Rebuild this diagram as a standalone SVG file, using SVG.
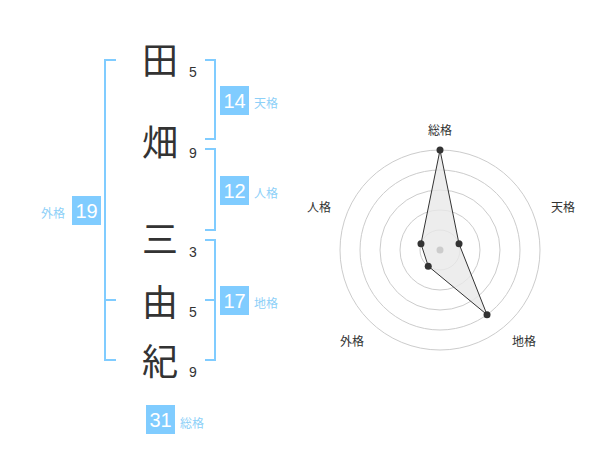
<svg xmlns="http://www.w3.org/2000/svg" width="600" height="470" viewBox="0 0 600 470">
<style>
.kanji{font-family:"Noto Sans CJK JP","Noto Sans CJK SC",sans-serif;font-size:36px;fill:#333;text-anchor:middle}
.num{font-family:"Liberation Sans",Arial,sans-serif;font-size:14px;fill:#333;text-anchor:middle}
.box{fill:#80ccff}
.boxnum{font-family:"Liberation Sans",Arial,sans-serif;font-size:20px;fill:#fff;text-anchor:middle}
.lab{font-family:"Noto Sans CJK JP","Noto Sans CJK SC",sans-serif;font-size:12px;fill:#8dd0f8}
.br{fill:none;stroke:#80ccff;stroke-width:2}
.ring{fill:none;stroke:#cccccc;stroke-width:1}
.axl{font-family:"Noto Sans CJK JP","Noto Sans CJK SC",sans-serif;font-size:12px;fill:#333;text-anchor:middle}
.pt{fill:#333}
</style>
<rect width="600" height="470" fill="#fff"/>
<g id="connectors">
<path class="br" d="M116,60 H105 V360 H116 M105,300 H116"/>
<path class="br" d="M205,60 H215 V139 H205"/>
<path class="br" d="M205,149 H215 V230 H205"/>
<path class="br" d="M205,240 H215 V360 H205 M215,300 H205"/>
</g>
<g id="name">
<text class="kanji" x="160" y="74">田</text>
<text class="num" x="193" y="77">5</text>
<text class="kanji" x="160" y="156">畑</text>
<text class="num" x="193" y="158">9</text>
<text class="kanji" x="160" y="253">三</text>
<text class="num" x="193" y="257">3</text>
<text class="kanji" x="160" y="316">由</text>
<text class="num" x="193" y="317">5</text>
<text class="kanji" x="160" y="375">紀</text>
<text class="num" x="193" y="377">9</text>
</g>
<g id="tenkaku">
<rect class="box" x="220" y="86" width="29" height="29"/>
<text class="boxnum" x="234.5" y="107.5">14</text>
<text class="lab" x="254" y="108">天格</text>
</g>
<g id="jinkaku">
<rect class="box" x="220" y="176" width="29" height="29"/>
<text class="boxnum" x="234.5" y="197.5">12</text>
<text class="lab" x="254" y="198">人格</text>
</g>
<g id="chikaku">
<rect class="box" x="220" y="286" width="29" height="29"/>
<text class="boxnum" x="234.5" y="307.5">17</text>
<text class="lab" x="254" y="308">地格</text>
</g>
<g id="gaikaku">
<rect class="box" x="72" y="196" width="29" height="29"/>
<text class="boxnum" x="86.5" y="217.5">19</text>
<text class="lab" x="41" y="218">外格</text>
</g>
<g id="soukaku">
<rect class="box" x="146" y="405" width="29" height="29"/>
<text class="boxnum" x="160.5" y="426.5">31</text>
<text class="lab" x="180" y="428">総格</text>
</g>
<g id="radar">
<circle class="ring" cx="440" cy="250" r="20"/>
<circle class="ring" cx="440" cy="250" r="40"/>
<circle class="ring" cx="440" cy="250" r="60"/>
<circle class="ring" cx="440" cy="250" r="80"/>
<circle class="ring" cx="440" cy="250" r="100"/>
<polygon points="440,150 459.02,243.82 487.02,314.72 428.24,266.18 420.98,243.82" fill="#e8e8e8" fill-opacity="0.8" stroke="#333" stroke-width="1"/>
<circle cx="440" cy="250" r="3.5" fill="#cccccc"/>
<circle class="pt" cx="440" cy="150" r="3.5"/>
<circle class="pt" cx="459.02" cy="243.82" r="3.5"/>
<circle class="pt" cx="487.02" cy="314.72" r="3.5"/>
<circle class="pt" cx="428.24" cy="266.18" r="3.5"/>
<circle class="pt" cx="420.98" cy="243.82" r="3.5"/>
<text class="axl" x="440" y="135">総格</text>
<text class="axl" x="563" y="212">天格</text>
<text class="axl" x="524" y="346">地格</text>
<text class="axl" x="352" y="346">外格</text>
<text class="axl" x="319" y="212">人格</text>
</g>
</svg>
